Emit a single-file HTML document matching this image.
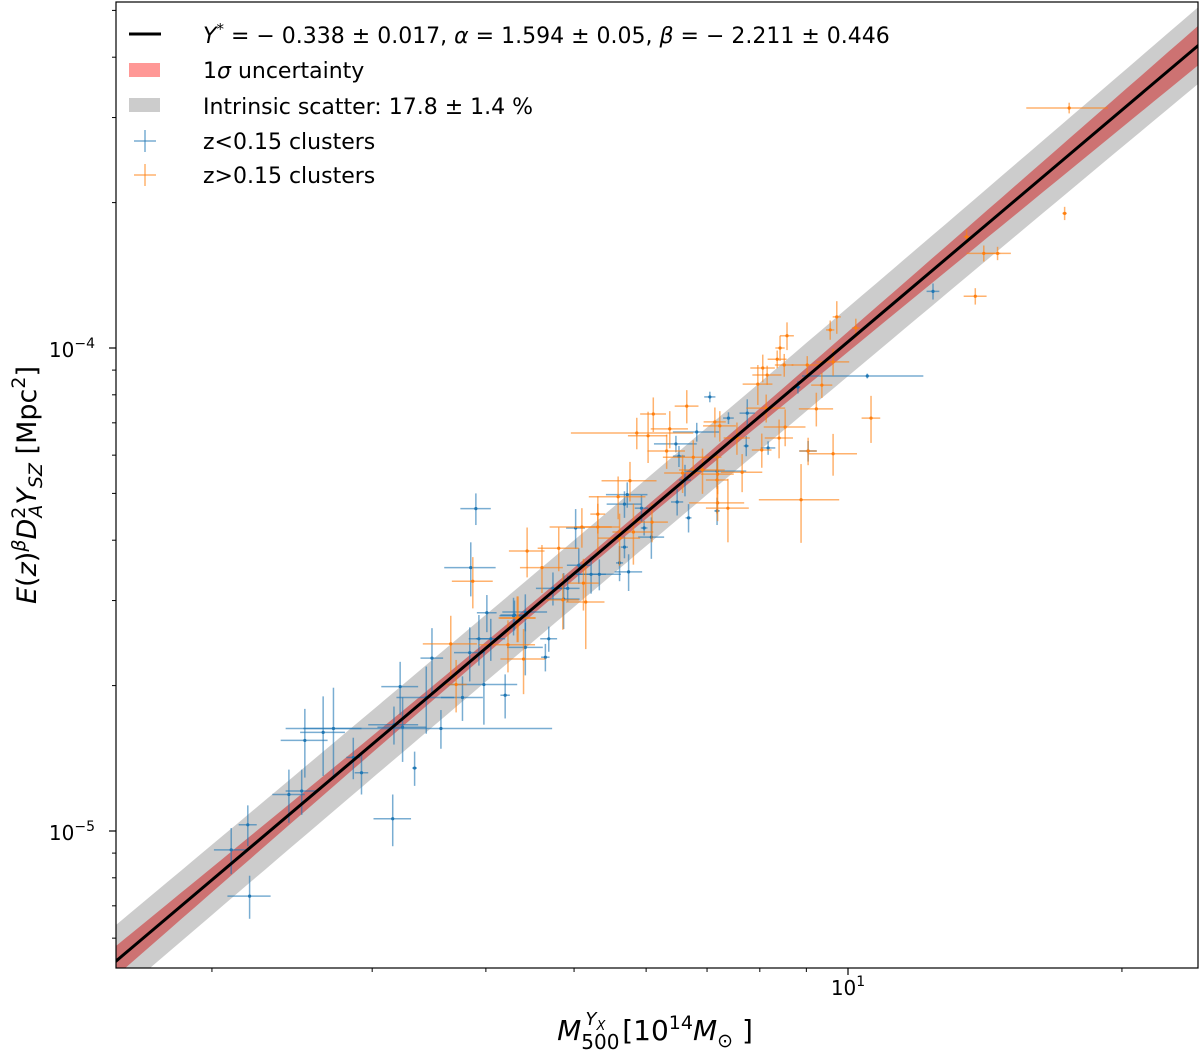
<!DOCTYPE html>
<html><head><meta charset="utf-8"><title>Y_SZ vs M_500 scaling relation</title>
<style>
html,body{margin:0;padding:0;background:#fff;}
svg{display:block;font-family:"DejaVu Sans","Liberation Sans",sans-serif;}
</style></head>
<body>
<svg id="chart" width="1200" height="1054" viewBox="0 0 1200 1054" xmlns="http://www.w3.org/2000/svg">
<defs><clipPath id="plotclip"><rect x="116" y="2" width="1082" height="966"/></clipPath></defs>
<rect x="0" y="0" width="1200" height="1054" fill="#fff"/>
<g id="bands" clip-path="url(#plotclip)"></g>
<g id="points" clip-path="url(#plotclip)"></g>
<g id="fit" clip-path="url(#plotclip)"></g>
<g id="axes"></g>
<g id="legend">
  <line x1="129" y1="34" x2="161" y2="34" stroke="#000" stroke-width="3"/>
  <text x="203" y="43" font-size="22"><tspan font-style="italic">Y</tspan><tspan dy="-9" font-size="15">*</tspan><tspan dy="9">&#160;= − 0.338 ± 0.017, </tspan><tspan font-style="italic">α</tspan> = 1.594 ± 0.05, <tspan font-style="italic">β</tspan> = − 2.211 ± 0.446</text>
  <rect x="129" y="63" width="31" height="14" fill="#ff9896"/>
  <text x="203" y="78" font-size="22">1<tspan font-style="italic">σ</tspan> uncertainty</text>
  <rect x="129" y="98" width="31" height="14" fill="#cccccc"/>
  <text x="203" y="114" font-size="22">Intrinsic scatter: 17.8 ± 1.4 %</text>
  <g stroke="#1f77b4" stroke-opacity="0.6" stroke-width="1.5"><line x1="145" y1="130" x2="145" y2="152"/><line x1="134" y1="141" x2="156" y2="141"/></g>
  <text x="203" y="149" font-size="22">z&lt;0.15 clusters</text>
  <g stroke="#ff7f0e" stroke-opacity="0.6" stroke-width="1.5"><line x1="145" y1="164" x2="145" y2="186"/><line x1="134" y1="175" x2="156" y2="175"/></g>
  <text x="203" y="183" font-size="22">z&gt;0.15 clusters</text>
</g>
<text x="95" y="357" font-size="20" text-anchor="end">10<tspan dy="-9" font-size="14">−4</tspan></text>
<text x="95" y="840" font-size="20" text-anchor="end">10<tspan dy="-9" font-size="14">−5</tspan></text>
<text x="848" y="995" font-size="20" text-anchor="middle">10<tspan dy="-9" font-size="14">1</tspan></text>
<text transform="translate(36,485) rotate(-90)" font-size="27" text-anchor="middle"><tspan font-style="italic">E</tspan>(<tspan font-style="italic">z</tspan>)<tspan dy="-11" font-size="19" font-style="italic">β</tspan><tspan dy="11" font-style="italic">D</tspan><tspan dy="-11" font-size="19">2</tspan><tspan dx="-11" dy="17" font-size="19" font-style="italic">A</tspan><tspan dy="-6" font-style="italic">Y</tspan><tspan dy="6" font-size="19" font-style="italic">SZ</tspan><tspan dy="-6">&#160;[Mpc</tspan><tspan dy="-11" font-size="19">2</tspan><tspan dy="11">]</tspan></text>
<text x="655" y="1040" font-size="28" text-anchor="middle"><tspan font-style="italic">M</tspan><tspan dy="9" font-size="20">500</tspan><tspan dx="-34" dy="-24" font-size="18" font-style="italic">Y</tspan><tspan dy="5" font-size="13" font-style="italic">X</tspan><tspan dx="8" dy="10">&#160;[10</tspan><tspan dy="-11" font-size="19">14</tspan><tspan dy="11" font-style="italic">M</tspan><tspan dy="7" font-size="19">⊙</tspan><tspan dy="-7">&#160;]</tspan></text>
<script>
const fitNorm10 = 10.3;
const fitSlope = 1.594;
const redHalfAtPivot = 0.012, redSlopeErr = 0.057, pivotLogM = 0.7, scatterDex = 0.068;
const blueM = [3.90,3.85,5.02,5.06,4.74,4.92,4.87,4.01,4.30,4.42,3.93,4.05,4.42,4.69,3.84,3.49,4.65,3.22,3.44,3.77,3.98,4.20,2.53,2.65,2.72,3.17,3.24,3.57,2.86,2.92,3.34,2.43,2.51,3.16,2.19,2.10,2.20,7.05,7.39,7.75,6.82,6.47,6.52,7.73,8.17,9.04,8.81,10.5,6.62,7.18,6.49,6.68,7.18,5.72,5.68,5.93,5.97,6.08,5.68,5.61,5.33,5.22,5.74,4.29,12.4];
const blueY = [4.65,3.51,4.24,3.55,3.18,3.18,3.02,2.83,2.80,2.84,2.50,2.50,2.40,2.50,2.34,2.28,2.29,1.99,1.89,1.89,2.01,1.91,1.54,1.60,1.63,1.66,1.64,1.63,1.42,1.32,1.35,1.19,1.21,1.06,1.03,0.914,0.733,7.92,7.16,7.33,6.70,6.33,5.97,6.27,6.21,6.12,8.30,8.75,5.33,5.56,4.80,4.45,4.60,4.97,4.75,4.66,4.24,4.06,3.87,3.59,3.40,3.40,3.44,2.79,13.1];
const blueXerr = [0.15,0.25,0.12,0.15,0.2,0.15,0.2,0.1,0.15,0.25,0.1,0.15,0.2,0.1,0.15,0.1,0.05,0.15,0.25,0.2,0.35,0.05,0.15,0.15,0.2,0.2,0.2,1.16,0.05,0.05,0.02,0.1,0.1,0.15,0.05,0.09,0.12,0.1,0.1,0.15,0.4,0.35,0.1,0.05,0.15,0.2,0.05,1.6,0.1,0.55,0.1,0.05,0.05,0.3,0.25,0.1,0.05,0.2,0.05,0.05,0.3,0.2,0.2,0.15,0.2];
const blueYerr = [0.35,0.45,0.4,0.3,0.25,0.2,0.4,0.25,0.2,0.25,0.3,0.25,0.3,0.15,0.3,0.35,0.15,0.25,0.3,0.2,0.35,0.2,0.25,0.3,0.35,0.15,0.25,0.15,0.14,0.13,0.11,0.15,0.13,0.13,0.1,0.1,0.075,0.2,0.2,0.5,0.3,0.25,0.3,0.3,0.2,0.3,0.25,0.1,0.4,0.45,0.3,0.3,0.3,0.3,0.3,0.3,0.15,0.4,0.2,0.3,0.25,0.3,0.3,0.25,0.5];
const orangeM = [3.87,4.44,4.81,4.61,5.15,4.34,3.66,4.23,4.40,3.71,9.72,9.56,10.2,8.57,8.42,8.06,8.36,8.51,8.15,7.96,9.02,9.63,9.36,8.13,9.23,8.53,8.40,10.6,6.65,6.11,6.37,5.86,6.03,6.32,6.76,7.23,7.14,7.55,8.04,9.63,9.04,7.65,7.19,6.92,6.58,7.18,5.76,8.88,7.19,7.38,5.31,5.59,5.10,5.31,5.81,6.09,5.61,4.86,5.12,4.33,17.5,17.3,13.5,14.1,14.6,13.8];
const orangeY = [3.29,3.80,3.85,3.51,2.98,2.76,2.44,2.43,2.27,2.01,11.6,10.9,11.0,10.6,10.0,9.09,9.48,9.22,8.79,8.42,9.22,9.36,8.38,7.51,7.48,6.86,6.51,7.16,7.58,7.30,6.80,6.67,6.58,6.12,5.94,6.90,7.03,6.51,6.15,6.04,6.12,5.53,5.48,5.59,5.51,5.33,5.31,4.85,4.78,4.66,4.53,4.92,4.26,4.26,4.16,4.36,4.04,3.01,3.26,2.76,31.4,19.0,17.0,15.7,15.7,12.8];
const orangeXerr = [0.2,0.2,0.25,0.25,0.25,0.2,0.25,0.3,0.25,0.1,0.1,0.1,0.1,0.15,0.1,0.25,0.2,0.2,0.3,0.3,0.35,0.4,0.25,0.4,0.4,0.45,0.3,0.25,0.2,0.2,0.3,0.9,0.3,0.3,0.5,0.3,0.2,0.25,0.2,0.6,0.2,0.4,0.3,0.4,0.3,0.2,0.4,0.9,0.5,0.4,0.1,0.4,0.4,0.3,0.3,0.25,0.3,0.2,0.2,0.2,1.8,0.1,0.1,0.6,0.5,0.4];
const orangeYerr = [0.4,0.45,0.4,0.4,0.6,0.3,0.35,0.3,0.35,0.25,0.9,0.5,0.5,0.7,0.6,0.6,0.4,0.5,0.4,0.8,0.4,0.6,0.5,0.5,0.6,0.6,0.6,0.8,0.6,0.6,0.6,0.5,0.8,0.5,0.5,0.5,0.5,0.5,0.5,0.6,0.4,0.5,0.5,0.6,0.5,0.8,0.5,0.9,0.4,0.7,0.4,0.5,0.4,0.5,0.6,0.4,0.5,0.4,0.4,0.3,0.8,0.6,0.6,0.6,0.5,0.5];
const yMajorTicks = [1e-5, 1e-4];
const xMajorTicks = [10];
const xMinorTicks = [2,3,4,5,6,7,8,9,20];
const yMinorTicks = [6e-6,7e-6,8e-6,9e-6,2e-5,3e-5,4e-5,5e-5,6e-5,7e-5,8e-5,9e-5,2e-4,3e-4,4e-4,5e-4];

const NS = "http://www.w3.org/2000/svg";
const L = 116, R = 1198, T = 2, B = 968;
const xs = m => 848 + 910 * Math.log10(m / 10);
const ys = y => 348 - 483 * Math.log10(y / 1e-4);
const ys5 = y5 => ys(y5 * 1e-5);
function mk(tag, attrs, parent) {
  const e = document.createElementNS(NS, tag);
  for (const k in attrs) e.setAttribute(k, attrs[k]);
  parent.appendChild(e);
  return e;
}
const fitLog = lm => Math.log10(fitNorm10) + fitSlope * (lm - 1);
const redHalf = lm => Math.sqrt(redHalfAtPivot ** 2 + (redSlopeErr * (lm - pivotLogM)) ** 2);
const grayHalf = lm => Math.sqrt(scatterDex ** 2 + redHalf(lm) ** 2);

const bandsG = document.getElementById('bands');
function band(halfFn, color, name) {
  const lo = Math.log10(1.5), hi = Math.log10(25), n = 80;
  let up = [], dn = [];
  for (let i = 0; i <= n; i++) {
    const lm = lo + (hi - lo) * i / n;
    const c = fitLog(lm), h = halfFn(lm);
    const px = xs(10 ** lm);
    up.push(px.toFixed(1) + ',' + ys5(10 ** (c + h)).toFixed(1));
    dn.unshift(px.toFixed(1) + ',' + ys5(10 ** (c - h)).toFixed(1));
  }
  const p = mk('polygon', {points: up.concat(dn).join(' '), fill: color}, bandsG);
  
  
}
band(grayHalf, '#cccccc', 'intrinsic-scatter-band');
band(redHalf, '#cd7272', 'one-sigma-band');

const ptsG = document.getElementById('points');
function series(Ms, Ys, Xe, Ye, color, cls) {
  for (let i = 0; i < Ms.length; i++) {
    const g = mk('g', {stroke: color, 'stroke-opacity': 0.6, 'stroke-width': 1.5}, ptsG);
    
    
    const cx = xs(Ms[i]), cy = ys5(Ys[i]);
    mk('line', {x1: xs(Math.max(Ms[i] - Xe[i], 0.01)), x2: xs(Ms[i] + Xe[i]), y1: cy, y2: cy}, g);
    mk('line', {x1: cx, x2: cx, y1: ys5(Math.max(Ys[i] - Ye[i], 0.001)), y2: ys5(Ys[i] + Ye[i])}, g);
    mk('circle', {cx: cx, cy: cy, r: 1.6, fill: color, stroke: 'none'}, g);
  }
}
series(blueM, blueY, blueXerr, blueYerr, '#1f77b4', 'low-z');
series(orangeM, orangeY, orangeXerr, orangeYerr, '#ff7f0e', 'high-z');

const fitG = document.getElementById('fit');
{
  const lo = Math.log10(1.5), hi = Math.log10(25);
  const fl = mk('line', {x1: xs(10 ** lo), y1: ys5(10 ** fitLog(lo)), x2: xs(10 ** hi), y2: ys5(10 ** fitLog(hi)), stroke: '#000', 'stroke-width': 3}, fitG);
  
  
}

const axG = document.getElementById('axes');
const frame = mk('rect', {x: L, y: T, width: R - L, height: B - T, fill: 'none', stroke: '#000', 'stroke-width': 1.2}, axG);


xMajorTicks.forEach(v => {
  const t = mk('line', {x1: xs(v), x2: xs(v), y1: B, y2: B + 7, stroke: '#000', 'stroke-width': 1.2}, axG);
  
  
});
xMinorTicks.forEach(v => {
  const t = mk('line', {x1: xs(v), x2: xs(v), y1: B, y2: B + 4, stroke: '#000', 'stroke-width': 1}, axG);
  
  
});
yMajorTicks.forEach(v => {
  const t = mk('line', {x1: L - 7, x2: L, y1: ys(v), y2: ys(v), stroke: '#000', 'stroke-width': 1.2}, axG);
  
  
});
yMinorTicks.forEach(v => {
  const y = ys(v);
  if (y < T || y > B) return;
  const t = mk('line', {x1: L - 4, x2: L, y1: y, y2: y, stroke: '#000', 'stroke-width': 1}, axG);
  
  
});
</script>
</svg>
</body></html>
